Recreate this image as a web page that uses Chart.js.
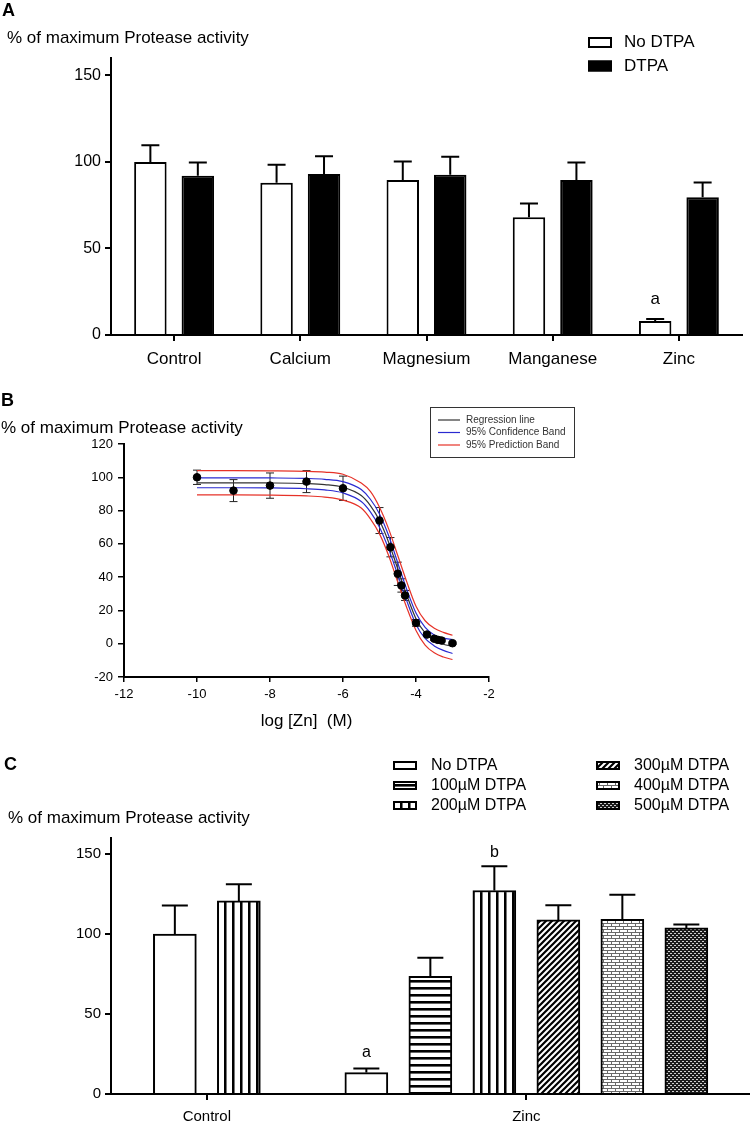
<!DOCTYPE html>
<html>
<head>
<meta charset="utf-8">
<script src="https://cdn.jsdelivr.net/npm/chart.js@4.4.1/dist/chart.umd.min.js"></script>
<style>
  html, body { margin: 0; padding: 0; background: #fff; overflow: hidden; }
  .panel { position: absolute; left: 0; width: 750px; }
  #wrapA { top: 0; height: 375px; }
  #wrapB { top: 375px; height: 360px; }
  #wrapC { top: 735px; height: 395px; }
</style>
</head>
<body>
<div class="panel" id="wrapA"><canvas id="chartA"></canvas></div>
<div class="panel" id="wrapB"><canvas id="chartB"></canvas></div>
<div class="panel" id="wrapC"><canvas id="chartC"></canvas></div>
<script>
// ---- panel A: metals with / without DTPA
const metals = ['Control', 'Calcium', 'Magnesium', 'Manganese', 'Zinc']
const noDtpaA = [100, 88, 89.6, 68, 8.1]
const noDtpaErrA = [9.6, 10.4, 10.6, 8, 1.1]
const dtpaA = [92, 93, 92.5, 89.5, 79.5]
const dtpaErrA = [7.6, 10.2, 10.5, 10.2, 8.6]
const yTicksA = [0, 50, 100, 150]

// ---- panel B: zinc dose response
const logZn = [-10, -9, -8, -7, -6, -5, -4.7, -4.5, -4.4, -4.3, -4, -3.7, -3.5, -3.4, -3.3, -3]
const activityB = [100, 92, 95, 97.4, 93.4, 74, 58, 42, 35, 29, 12.5, 5.5, 3, 2.3, 1.9, 0.3]
const activityErrB = [4.3, 6.6, 7.6, 6.6, 7.3, 7.8, 5.8, 7, 4, 3, 2, 1, 1, 0.8, 0.8, 0.8]
const fitX = [-10, -9, -8, -7, -6.5, -6, -5.5, -5.25, -5, -4.75, -4.5, -4.25, -4, -3.75, -3.5, -3.25, -3]
const fitY = [96.7, 96.7, 96.6, 96.2, 95.6, 94, 89, 83, 74, 61, 45, 29, 15, 6.5, 2, -0.3, -1.5]
const confHi = [99.7, 99.7, 99.6, 99.3, 98.8, 97.4, 92.6, 86.8, 78, 65, 48.6, 32.4, 18.4, 9.8, 5.3, 3.4, 2.5]
const confLo = [93.7, 93.7, 93.6, 93.1, 92.4, 90.6, 85.4, 79.2, 70, 57, 41.4, 25.6, 11.6, 3.2, -1.3, -4, -5.9]
const predHi = [104, 104, 103.9, 103.6, 103.1, 101.8, 96.5, 91.5, 82, 69, 53, 37, 22.5, 13.8, 9.3, 6.8, 5.1]
const predLo = [89.4, 89.4, 89.3, 88.8, 88.1, 86.3, 81.5, 75, 66, 53, 37, 21.5, 8, -0.8, -5.5, -8, -9.5]
const xTicksB = [-12, -10, -8, -6, -4, -2]
const yTicksB = [-20, 0, 20, 40, 60, 80, 100, 120]

// ---- panel C: DTPA rescue of zinc inhibition
const groupsC = ['Control', 'Zinc']
const noDtpaC = [100, 13.4]
const noDtpaErrC = [17.8, 2.5]
const dtpa100C = [null, 73.6]
const dtpa100ErrC = [null, 11.5]
const dtpa200C = [120.7, 127.2]
const dtpa200ErrC = [10.4, 15.2]
const dtpa300C = [null, 108.8]
const dtpa300ErrC = [null, 9.2]
const dtpa400C = [null, 109.2]
const dtpa400ErrC = [null, 15.3]
const dtpa500C = [null, 103.8]
const dtpa500ErrC = [null, 2.2]
const yTicksC = [0, 50, 100, 150]

const yTitle = '% of maximum Protease activity'
const FONT = "'Liberation Sans', Arial, Helvetica, sans-serif"
Chart.defaults.font.family = FONT
Chart.defaults.color = '#000'

const makePattern = kind => {
    const c = document.createElement('canvas')
    const g = c.getContext('2d')
    if(kind == 'hlines') {
        c.width = 8; c.height = 7
        g.fillStyle = '#fff'; g.fillRect(0, 0, 8, 7)
        g.fillStyle = '#000'; g.fillRect(0, 0, 8, 2)
        g.fillStyle = '#666'; g.fillRect(0, 2, 8, 1)
    }
    else if(kind == 'vlines') {
        c.width = 8; c.height = 8
        g.fillStyle = '#fff'; g.fillRect(0, 0, 8, 8)
        g.fillStyle = '#000'; g.fillRect(0, 0, 2, 8)
        g.fillStyle = '#777'; g.fillRect(2, 0, 1, 8)
    }
    else if(kind == 'diag') {
        c.width = 6; c.height = 6
        g.fillStyle = '#fff'; g.fillRect(0, 0, 6, 6)
        g.strokeStyle = '#000'; g.lineWidth = 2.2
        g.beginPath()
        g.moveTo(0, 6); g.lineTo(6, 0)
        g.moveTo(-1, 1); g.lineTo(1, -1)
        g.moveTo(5, 7); g.lineTo(7, 5)
        g.stroke()
    }
    else if(kind == 'brick') {
        c.width = 8; c.height = 6
        g.fillStyle = '#6a6a6a'; g.fillRect(0, 0, 8, 6)
        g.fillStyle = '#fff'
        g.fillRect(0, 0, 7, 2)
        g.fillRect(4, 3, 4, 2)
        g.fillRect(0, 3, 3, 2)
    }
    else if(kind == 'dots') {
        c.width = 4; c.height = 4
        g.fillStyle = '#1c1c1c'; g.fillRect(0, 0, 4, 4)
        g.fillStyle = '#d0d0d0'
        g.fillRect(0, 0, 2, 1)
        g.fillRect(2, 2, 2, 1)
    }
    return g.createPattern(c, 'repeat')
}

// vertical error bars, up only or both directions
const errorBars = {
    id: 'errorBars',
    beforeDatasetsDraw(chart) {
        const ctx = chart.ctx
        const y = chart.scales.y
        chart.data.datasets.forEach((ds, i) => {
            if(!ds.errors) return
            const meta = chart.getDatasetMeta(i)
            ctx.save()
            ctx.strokeStyle = ds.errorColor || '#000'
            ctx.lineWidth = ds.errorWidth || 2
            meta.data.forEach((el, j) => {
                const p = meta.controller.getParsed(j)
                const err = ds.errors[j]
                if(!p || p.y == null || isNaN(p.y) || err == null) return
                const top = y.getPixelForValue(p.y + err)
                const bottom = y.getPixelForValue(ds.errorBoth ? p.y - err : p.y)
                const half = ds.capWidth / 2
                ctx.beginPath()
                ctx.moveTo(el.x, bottom); ctx.lineTo(el.x, top)
                ctx.moveTo(el.x - half, top); ctx.lineTo(el.x + half, top)
                if(ds.errorBoth) { ctx.moveTo(el.x - half, bottom); ctx.lineTo(el.x + half, bottom) }
                ctx.stroke()
            })
            ctx.restore()
        })
    }
}

// significance letters over the error bars
const notes = {
    id: 'notes',
    afterDatasetsDraw(chart, args, opts) {
        const ctx = chart.ctx
        const y = chart.scales.y
        ;(opts.items || []).forEach(n => {
            const ds = chart.data.datasets[n.dataset]
            const el = chart.getDatasetMeta(n.dataset).data[n.index]
            const top = y.getPixelForValue(ds.data[n.index] + ds.errors[n.index])
            ctx.save()
            ctx.font = opts.font
            ctx.fillStyle = '#000'
            ctx.textAlign = 'center'
            ctx.textBaseline = 'middle'
            ctx.fillText(n.text, el.x, top - n.gap)
            ctx.restore()
        })
    }
}

// panel letter and y-axis caption
const panelText = {
    id: 'panelText',
    afterDraw(chart, args, opts) {
        const ctx = chart.ctx
        ;(opts.items || []).forEach(t => {
            ctx.save()
            ctx.font = t.font
            ctx.fillStyle = '#000'
            ctx.textBaseline = 'middle'
            ctx.fillText(t.text, t.x, t.y)
            ctx.restore()
        })
    }
}

// hand placed legend, swatches taken from the datasets
const boxLegend = {
    id: 'boxLegend',
    afterDraw(chart, args, opts) {
        const ctx = chart.ctx
        ctx.save()
        if(opts.frame) {
            const f = opts.frame
            ctx.fillStyle = '#fff'
            ctx.fillRect(f.x, f.y, f.w, f.h)
            ctx.strokeStyle = '#333'
            ctx.lineWidth = 1
            ctx.strokeRect(f.x + 0.5, f.y + 0.5, f.w, f.h)
        }
        ctx.font = opts.font
        ctx.textBaseline = 'middle'
        opts.items.forEach((di, k) => {
            const ds = chart.data.datasets[di]
            const col = Math.floor(k / opts.rows)
            const row = k % opts.rows
            const x = opts.left + col * opts.colWidth
            const y = opts.top + row * opts.rowHeight
            if(ds.showLine) {
                ctx.strokeStyle = ds.borderColor
                ctx.lineWidth = 1.2
                ctx.beginPath()
                ctx.moveTo(x, y); ctx.lineTo(x + opts.boxW, y)
                ctx.stroke()
            }
            else {
                ctx.fillStyle = ds.backgroundColor
                ctx.fillRect(x, y - opts.boxH / 2, opts.boxW, opts.boxH)
                ctx.strokeStyle = '#000'
                ctx.lineWidth = 2
                ctx.strokeRect(x + 1, y - opts.boxH / 2 + 1, opts.boxW - 2, opts.boxH - 2)
            }
            ctx.fillStyle = '#333'
            if(!ds.showLine) ctx.fillStyle = '#000'
            ctx.fillText(ds.label, x + opts.textGap, y)
        })
        ctx.restore()
    }
}

const yAxis = (min, max, ticks, width, size, padding) => ({
    min, max,
    afterFit: s => { s.width = width },
    afterBuildTicks: s => { s.ticks = ticks.map(value => ({ value })) },
    border: { color: '#000', width: 2 },
    grid: { drawOnChartArea: false, color: '#000', lineWidth: 2, tickLength: 6 },
    ticks: { font: { size }, padding }
})

// ---------- A
new Chart(document.getElementById('chartA'), {
    type: 'bar',
    data: {
        labels: metals,
        datasets: [
            { label: 'No DTPA', data: noDtpaA, errors: noDtpaErrA, backgroundColor: '#fff', capWidth: 18 },
            { label: 'DTPA', data: dtpaA, errors: dtpaErrA, backgroundColor: '#000', capWidth: 18 }
        ]
    },
    options: {
        responsive: true,
        maintainAspectRatio: false,
        animation: false,
        layout: { padding: { top: 58, right: 8, left: 0, bottom: 0 } },
        datasets: { bar: { categoryPercentage: 0.752, barPercentage: 0.684, borderColor: '#000', borderWidth: 2 } },
        scales: {
            x: {
                afterFit: s => { s.height = 40 },
                border: { color: '#000', width: 2 },
                grid: { drawOnChartArea: false, offset: false, color: '#000', lineWidth: 2, tickLength: 6 },
                ticks: { font: { size: 17 }, padding: 8 }
            },
            y: yAxis(0, 160, yTicksA, 111, 16, 4)
        },
        plugins: {
            legend: { display: false },
            tooltip: { enabled: false },
            notes: { font: '17px ' + FONT, items: [{ dataset: 0, index: 4, text: 'a', gap: 20 }] },
            panelText: { items: [
                { text: 'A', x: 2, y: 11, font: 'bold 18px ' + FONT },
                { text: yTitle, x: 7, y: 38.5, font: '17px ' + FONT }
            ] },
            boxLegend: { items: [0, 1], left: 588, top: 42.5, rows: 2, colWidth: 0, rowHeight: 23.5,
                boxW: 24, boxH: 11, textGap: 36, font: '17px ' + FONT }
        }
    },
    plugins: [errorBars, notes, panelText, boxLegend]
})

// ---------- B
const pts = ys => fitX.map((x, i) => ({ x, y: ys[i] }))
const curve = (label, ys, color) => ({
    label, data: pts(ys), showLine: true, borderColor: color, backgroundColor: color,
    borderWidth: 1.2, pointRadius: 0, cubicInterpolationMode: 'monotone'
})

new Chart(document.getElementById('chartB'), {
    type: 'scatter',
    data: {
        datasets: [
            { label: 'Activity', data: logZn.map((x, i) => ({ x, y: activityB[i] })), errors: activityErrB,
              errorBoth: true, errorWidth: 1, errorColor: '#222', capWidth: 8,
              backgroundColor: '#000', borderColor: '#000', pointRadius: 3.8 },
            curve('Regression line', fitY, '#333'),
            curve('95% Confidence Band', confHi, '#2a2ad0'),
            curve('95% Confidence Band', confLo, '#2a2ad0'),
            curve('95% Prediction Band', predHi, '#e63228'),
            curve('95% Prediction Band', predLo, '#e63228')
        ]
    },
    options: {
        responsive: true,
        maintainAspectRatio: false,
        animation: false,
        layout: { padding: { top: 69, right: 261, left: 0, bottom: 0 } },
        scales: {
            x: {
                type: 'linear', min: -12, max: -2,
                afterFit: s => { s.height = 58 },
                afterBuildTicks: s => { s.ticks = xTicksB.map(value => ({ value })) },
                border: { color: '#000', width: 2 },
                grid: { drawOnChartArea: false, color: '#000', lineWidth: 1.5, tickLength: 5 },
                ticks: { font: { size: 13 }, padding: 5 },
                title: { display: true, text: 'log [Zn]  (M)', font: { size: 17 }, padding: { top: 0, bottom: 3 } }
            },
            y: {
                ...yAxis(-20, 120, yTicksB, 124, 13, 5),
                grid: { drawOnChartArea: false, color: '#000', lineWidth: 1.5, tickLength: 6 }
            }
        },
        plugins: {
            legend: { display: false },
            tooltip: { enabled: false },
            panelText: { items: [
                { text: 'B', x: 1, y: 26, font: 'bold 18px ' + FONT },
                { text: yTitle, x: 1, y: 53, font: '17px ' + FONT }
            ] },
            boxLegend: { items: [1, 2, 4], left: 438, top: 45, rows: 3, colWidth: 0, rowHeight: 12.5,
                boxW: 22, boxH: 0, textGap: 28, font: '10px ' + FONT,
                frame: { x: 430, y: 32, w: 144, h: 50 } }
        }
    },
    plugins: [errorBars, panelText, boxLegend]
})

// ---------- C
const barC = (label, data, errors, kind) => ({
    label, data, errors, capWidth: 26,
    backgroundColor: kind ? makePattern(kind) : '#fff'
})

new Chart(document.getElementById('chartC'), {
    type: 'bar',
    data: {
        labels: [0, 1],
        datasets: [
            barC('No DTPA', noDtpaC, noDtpaErrC, null),
            barC('100µM DTPA', dtpa100C, dtpa100ErrC, 'hlines'),
            barC('200µM DTPA', dtpa200C, dtpa200ErrC, 'vlines'),
            barC('300µM DTPA', dtpa300C, dtpa300ErrC, 'diag'),
            barC('400µM DTPA', dtpa400C, dtpa400ErrC, 'brick'),
            barC('500µM DTPA', dtpa500C, dtpa500ErrC, 'dots')
        ]
    },
    options: {
        responsive: true,
        maintainAspectRatio: false,
        animation: false,
        layout: { padding: { top: 103, right: 0, left: 0, bottom: 0 } },
        datasets: { bar: { barThickness: 64, maxBarThickness: 43, skipNull: true, borderColor: '#000', borderWidth: 2 } },
        scales: {
            x: {
                type: 'linear', min: -0.3, max: 1.7, offset: false,
                afterFit: s => { s.height = 36 },
                afterBuildTicks: s => { s.ticks = groupsC.map((g, i) => ({ value: i })) },
                border: { color: '#000', width: 2 },
                grid: { drawOnChartArea: false, offset: false, color: '#000', lineWidth: 2, tickLength: 6 },
                ticks: { font: { size: 15 }, padding: 8, callback: v => groupsC[v] }
            },
            y: yAxis(0, 160, yTicksC, 111, 15, 4)
        },
        plugins: {
            legend: { display: false },
            tooltip: { enabled: false },
            notes: { font: '16px ' + FONT, items: [
                { dataset: 0, index: 1, text: 'a', gap: 16 },
                { dataset: 2, index: 1, text: 'b', gap: 14 }
            ] },
            panelText: { items: [
                { text: 'C', x: 4, y: 30, font: 'bold 18px ' + FONT },
                { text: yTitle, x: 8, y: 83, font: '17px ' + FONT }
            ] },
            boxLegend: { items: [0, 1, 2, 3, 4, 5], left: 393, top: 30.5, rows: 3, colWidth: 203, rowHeight: 20,
                boxW: 24, boxH: 9, textGap: 38, font: '16px ' + FONT }
        }
    },
    plugins: [errorBars, notes, panelText, boxLegend]
})
</script>
</body>
</html>
